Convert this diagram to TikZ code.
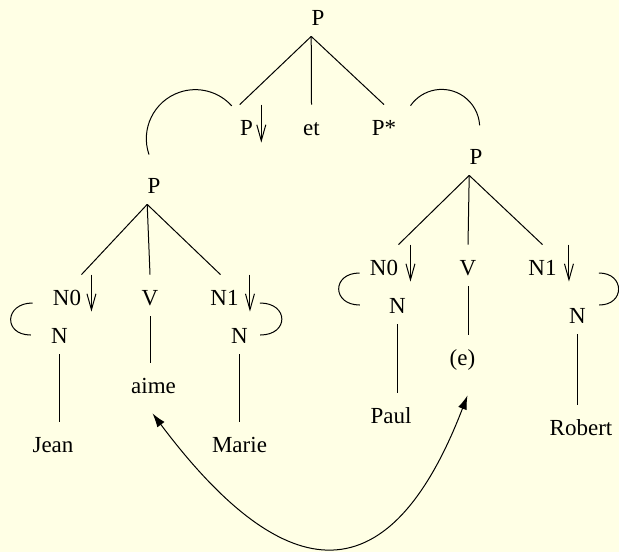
\documentclass[tikz,border=0pt]{standalone}
\usepackage{fontspec}
\setmainfont{Liberation Serif}
\newfontfamily\tagfont{Liberation Serif}
\usetikzlibrary{arrows.meta}

\begin{document}
\begin{tikzpicture}[x=0.5pt, y=-0.5pt]

  % ---- colours and styles ----
  \definecolor{TAGbg}{RGB}{255,255,229}
  \tikzset{
    lbl/.style={inner sep=0pt, text height=15pt, text depth=5.5pt, anchor=base,
                font=\tagfont\fontsize{11.5}{13}\selectfont},
    branch/.style={line width=0.5pt},
    link/.style={line width=0.5pt},
    substarrow/.style={line width=0.5pt, -{Straight Barb[length=8pt, width=4.5pt]}},
    movearrow/.style={line width=0.5pt,
                      {Latex[length=7pt, width=4.5pt]}-{Latex[length=7pt, width=4.5pt]}}
  }

  % ---- page ----
  \fill[TAGbg] (0,0) rectangle (619,552);
  \useasboundingbox (0,0) rectangle (619,552);

  % ---- coordination tree ----
  \node[lbl] (ptop)  at (318,25)    {P};
  \node[lbl] (padj)  at (246.5,135) {P};
  \node[lbl] (et)    at (311.5,135) {et};
  \node[lbl] (pstar) at (384,135)   {P*};

  \draw[branch] (ptop.south west) -- (padj.north west);
  \draw[branch] (ptop.south west) -- (et.north);
  \draw[branch] (ptop.south west) -- (pstar.north);
  \draw[substarrow] ([shift={(8,0)}]padj.north east) -- ++(0,38);

  % ---- left tree: Jean aime Marie ----
  \node[lbl] (pl)    at (154,193)   {P};
  \node[lbl] (n0l)   at (67,305)    {N0};
  \node[lbl] (vl)    at (150,305)   {V};
  \node[lbl] (n1l)   at (224.5,305) {N1};
  \node[lbl] (nl0)   at (59.5,343)  {N};
  \node[lbl] (nl1)   at (239.5,343) {N};
  \node[lbl] (aime)  at (153.5,393) {aime};
  \node[lbl] (jean)  at (53,452)    {Jean};
  \node[lbl] (marie) at (239.5,452) {Marie};

  \draw[branch] (pl.south west) -- (n0l.north east);
  \draw[branch] (pl.south west) -- (vl.north);
  \draw[branch] (pl.south west) -- ([shift={(-4,0)}]n1l.north);
  \draw[branch] (vl.south) -- (vl.south |- aime.north);
  \draw[branch] (nl0.south) -- (nl0.south |- jean.north);
  \draw[branch] (nl1.south) -- (nl1.south |- marie.north);
  \draw[substarrow] ([shift={(10,0)}]n0l.north east) -- ++(0,37);
  \draw[substarrow] ([shift={(11,0)}]n1l.north east) -- ++(0,37);

  % ---- right tree: Paul (e) Robert ----
  \node[lbl] (pr)     at (476,164)   {P};
  \node[lbl] (n0r)    at (384,275)   {N0};
  \node[lbl] (vr)     at (468,275)   {V};
  \node[lbl] (n1r)    at (542.5,275) {N1};
  \node[lbl] (nr0)    at (397.5,313) {N};
  \node[lbl] (nr1)    at (577.5,323) {N};
  \node[lbl] (e)      at (462.5,365) {(e)};
  \node[lbl] (paul)   at (391,423)   {Paul};
  \node[lbl] (robert) at (581,435)   {Robert};

  \draw[branch] (pr.south west) -- (n0r.north east);
  \draw[branch] (pr.south west) -- (vr.north);
  \draw[branch] (pr.south west) -- (n1r.north);
  \draw[branch] (vr.south) -- (vr.south |- e.north);
  \draw[branch] (nr0.south) -- (nr0.south |- paul.north);
  \draw[branch] (nr1.south) -- (nr1.south |- robert.north);
  \draw[substarrow] ([shift={(12,0)}]n0r.north east) -- ++(0,37);
  \draw[substarrow] ([shift={(12,0)}]n1r.north east) -- ++(0,37);

  % ---- substitution / adjunction links ----
  \draw[link] ([shift={(-5,-8)}]pl.north) arc[start angle=161, end angle=318, radius=49];
  \draw[link] ([shift={(14,1)}]pstar.north east) arc[start angle=215, end angle=357, radius=38];
  \draw[link] ([shift={(-20,-2)}]n0l.base west) .. controls +(-28,0) and +(-28,0) .. ([shift={(-20,-8)}]nl0.base west);
  \draw[link] ([shift={(21,-2)}]n1l.base east) .. controls +(29,0) and +(29,0) .. ([shift={(12,-8)}]nl1.base east);
  \draw[link] ([shift={(-10,-2)}]n0r.base west) .. controls +(-28,0) and +(-28,0) .. ([shift={(-29,-8)}]nr0.base west);
  \draw[link] ([shift={(42,-2)}]n1r.base east) .. controls +(26,0) and +(26,0) .. ([shift={(13,-18)}]nr1.base east);

  % ---- verb movement ----
  \draw[movearrow] ([shift={(-1,9)}]aime.south) .. controls +(117,156) and +(-86,224) .. ([shift={(5,19)}]e.south);

\end{tikzpicture}
\end{document}
